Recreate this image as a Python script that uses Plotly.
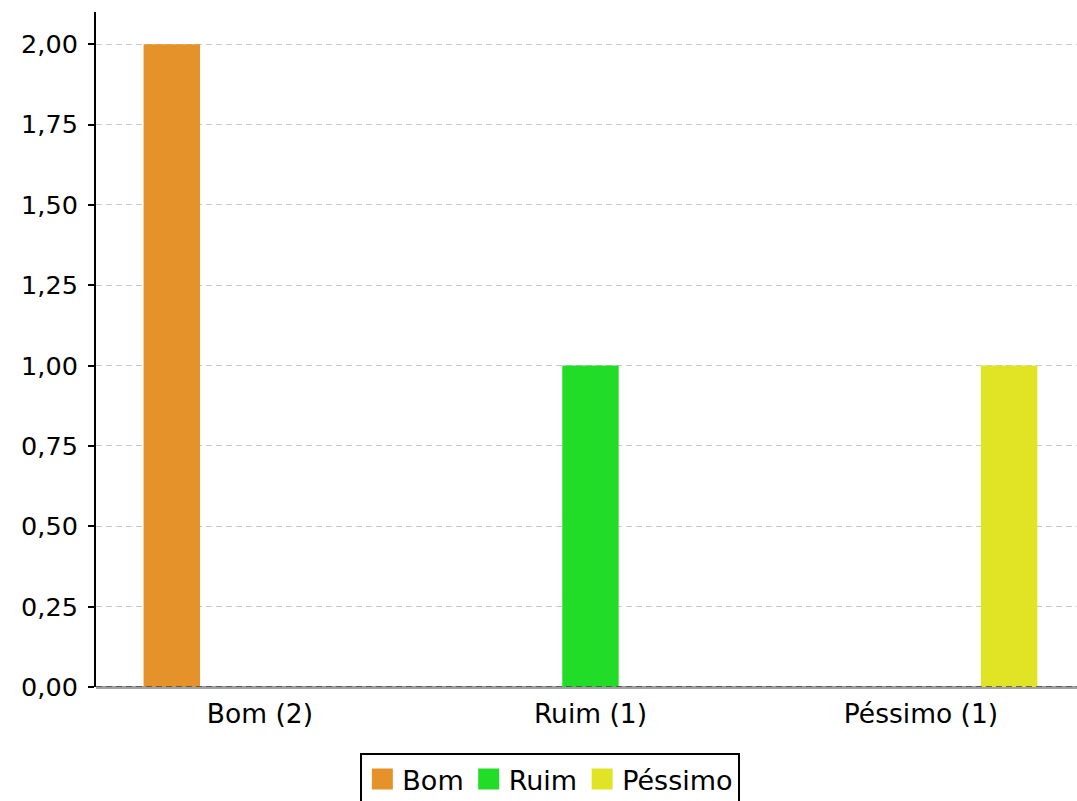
import plotly.graph_objects as go

categories = ["Bom (2)", "Ruim (1)", "Péssimo (1)"]
series_names = ["Bom", "Ruim", "Péssimo"]
bom_values = [2, None, None]
ruim_values = [None, 1, None]
pessimo_values = [None, None, 1]
series_values = [bom_values, ruim_values, pessimo_values]
colors = ["#E5922A", "#22DD27", "#E1E425"]
y_ticks = [0, 0.25, 0.5, 0.75, 1.0, 1.25, 1.5, 1.75, 2.0]

FONT = "DejaVu Sans"

fig = go.Figure()
for name, vals, col in zip(series_names, series_values, colors):
    fig.add_trace(go.Bar(x=categories, y=vals, name=name, marker=dict(color=col, line=dict(width=0)),
                         showlegend=False))
for name, col in zip(series_names, colors):
    fig.add_trace(go.Scatter(x=[None], y=[None], mode="markers", name=name,
                             marker=dict(symbol="square", size=16, color=col,
                                         line=dict(color=col, width=5))))

fig.add_shape(type="line", xref="paper", x0=0, x1=1, yref="y", y0=0, y1=0,
              line=dict(color="#444444", width=1.5, dash="6px,4px"), layer="above")

fig.update_layout(
    width=1077, height=801,
    margin=dict(l=96, r=0, t=12, b=114, pad=0),
    paper_bgcolor="white", plot_bgcolor="white",
    font=dict(family=FONT, size=26, color="black"),
    barmode="group", bargap=0.2, bargroupgap=0.36,
    separators=",.",
    showlegend=True,
    legend=dict(orientation="h", xref="container", yref="container",
                x=0.511, xanchor="center", y=0.06, yanchor="top",
                bordercolor="black", borderwidth=2, bgcolor="white",
                font=dict(family=FONT, size=27, color="black"),
                itemsizing="trace"),
    xaxis=dict(type="category", range=[-0.496, 2.472], showline=False, showgrid=False,
               ticks="", tickfont=dict(size=26.5), ticklabelstandoff=8, fixedrange=True),
    yaxis=dict(range=[0, 2.1], tickvals=y_ticks, tickformat=".2f",
               showline=True, linecolor="black", linewidth=2,
               ticks="outside", ticklen=6, tickwidth=2, tickcolor="black",
               ticklabelstandoff=5,
               showgrid=True, gridcolor="#C8C8C8", gridwidth=1, griddash="6px,4px",
               zeroline=True, zerolinecolor="#A0A0A0", zerolinewidth=3,
               tickfont=dict(size=25.5)),
)

fig.write_html("out.html", config={"displayModeBar": False},
               post_script="document.body.style.margin='0';document.body.style.overflow='hidden';")
